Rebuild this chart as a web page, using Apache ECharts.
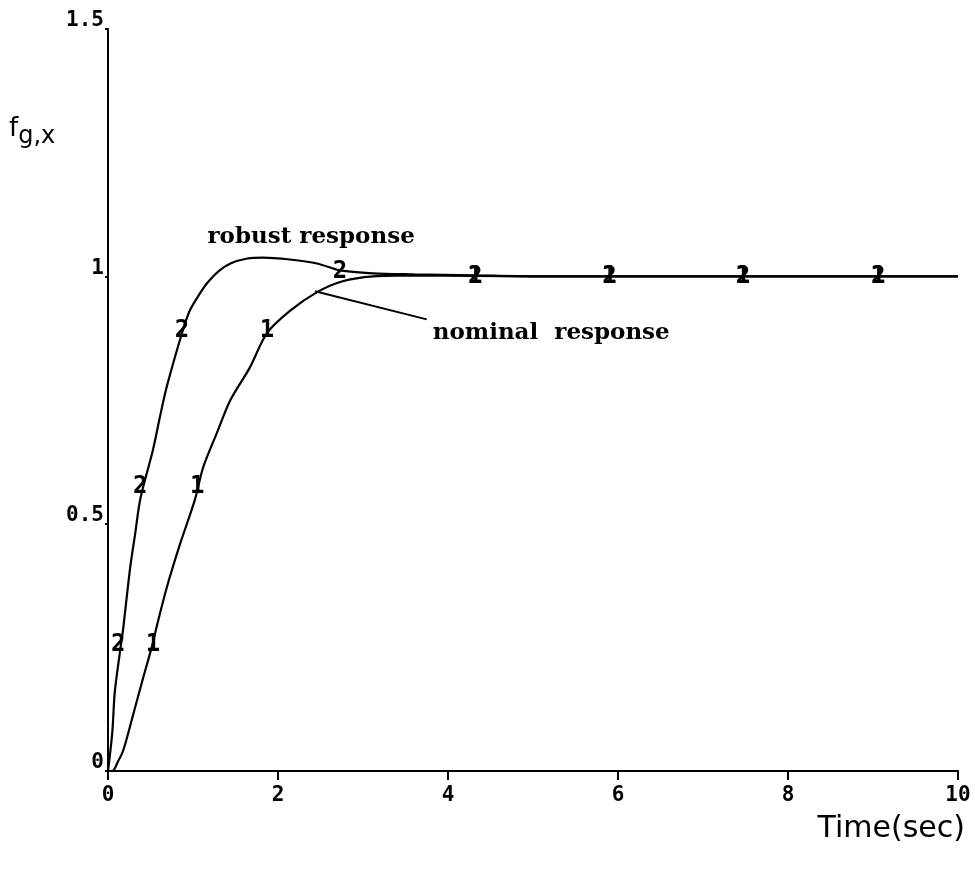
<!DOCTYPE html>
<html>
<head>
<meta charset="utf-8">
<script src="https://cdn.jsdelivr.net/npm/echarts@6/dist/echarts.min.js"></script>
<style>html,body{margin:0;padding:0;background:#fff}#c{width:975px;height:877px}</style>
</head>
<body>
<div id="c"></div>
<script>
// Robust response (curve "2")
const robustT = [0, 0.05, 0.08, 0.14, 0.18, 0.26, 0.32, 0.38, 0.53, 0.61, 0.69, 0.87, 0.96, 1.08, 1.16, 1.3, 1.44, 1.64, 1.82, 2.14, 2.46, 2.73, 3.12, 3.6, 4.3, 5, 6, 8, 10];
const robustV = [0, 0.077, 0.16, 0.24, 0.29, 0.41, 0.48, 0.55, 0.65, 0.715, 0.776, 0.885, 0.93, 0.965, 0.985, 1.01, 1.026, 1.036, 1.038, 1.034, 1.026, 1.012, 1.006, 1.004, 1.002, 1.0, 1.0, 1.0, 1.0];
// Nominal response (curve "1")
const nominalT = [0, 0.05, 0.12, 0.18, 0.29, 0.4, 0.53, 0.57, 0.69, 0.85, 1.02, 1.12, 1.28, 1.44, 1.67, 1.87, 2.14, 2.46, 2.76, 3.12, 3.6, 4.3, 5, 6, 8, 10];
const nominalV = [0, 0.0, 0.02, 0.042, 0.11, 0.18, 0.26, 0.29, 0.37, 0.46, 0.547, 0.614, 0.683, 0.75, 0.816, 0.885, 0.93, 0.968, 0.99, 1.0, 1.002, 1.001, 1.0, 1.0, 1.0, 1.0];
// Curve identification marks
const robustMarkT = [0.12, 0.38, 0.87, 2.73, 4.32, 5.9, 7.47, 9.06];
const robustMarkV = [0.255, 0.574, 0.89, 1.01, 1.0, 1.0, 1.0, 1.0];
const nominalMarkT = [0.53, 1.05, 1.87, 4.32, 5.9, 7.47, 9.06];
const nominalMarkV = [0.255, 0.574, 0.89, 1.0, 1.0, 1.0, 1.0];
// Pointer line for "nominal response"
const pointerT = [2.435, 3.75];
const pointerV = [0.970, 0.913];
// Axis tick labels
const xTicks = [0, 2, 4, 6, 8, 10];
const yTicks = [0, 0.5, 1, 1.5];
const annotations = [
  { text: 'robust response', t: 1.17, v: 1.08 },
  { text: 'nominal  response', t: 3.82, v: 0.885 }
];

const zip = (a, b) => a.map((x, i) => [x, b[i]]);
const tickFont = { fontFamily: 'DejaVu Sans Mono', fontWeight: 'bold', fontSize: 21, color: '#000' };
const markLabel = (txt) => ({ show: true, position: 'inside', formatter: txt, fontFamily: 'DejaVu Sans Mono', fontWeight: 'bold', fontSize: 24, color: '#000', opacity: 1 });

const chart = echarts.init(document.getElementById('c'), null, { renderer: 'canvas' });
const option = {
  backgroundColor: '#fff',
  animation: false,
  grid: { left: 108, right: 17, top: 29, bottom: 106 },
  xAxis: {
    type: 'value', min: 0, max: 10, interval: 2,
    axisLine: { lineStyle: { color: '#000', width: 2 } },
    axisTick: { show: true, inside: false, length: 9, lineStyle: { color: '#000', width: 2 } },
    splitLine: { show: false },
    axisLabel: Object.assign({ margin: 14, formatter: v => xTicks.includes(v) ? String(v) : '' }, tickFont)
  },
  yAxis: {
    type: 'value', min: 0, max: 1.5, interval: 0.5,
    axisLine: { lineStyle: { color: '#000', width: 2 } },
    axisTick: { show: true, length: 3, lineStyle: { color: '#000', width: 2 } },
    splitLine: { show: false },
    axisLabel: Object.assign({ margin: 4, verticalAlign: 'bottom', lineHeight: 16, formatter: v => yTicks.includes(v) ? String(v) : '' }, tickFont)
  },
  series: [
    { type: 'line', data: zip(robustT, robustV), smooth: 0.3, symbol: 'none', lineStyle: { color: '#000', width: 2.2 }, z: 2 },
    { type: 'line', data: zip(nominalT, nominalV), smooth: 0.3, symbol: 'none', lineStyle: { color: '#000', width: 2.2 }, z: 2 },
    { type: 'line', data: zip(pointerT, pointerV), symbol: 'none', lineStyle: { color: '#000', width: 2 }, z: 2 },
    { type: 'scatter', data: zip(robustMarkT, robustMarkV), symbolSize: 0.1, itemStyle: { color: '#000', opacity: 1 }, z: 5, label: markLabel('2') },
    { type: 'scatter', data: zip(nominalMarkT, nominalMarkV), symbolSize: 0.1, itemStyle: { color: '#000', opacity: 1 }, z: 5, label: markLabel('1') },
    { type: 'scatter', data: annotations.map(a => ({ value: [a.t, a.v], name: a.text })), symbolSize: 0.1, itemStyle: { color: '#fff', opacity: 1 }, z: 6,
      label: { show: true, position: 'right', distance: 0, formatter: p => p.name, fontFamily: 'DejaVu Serif', fontWeight: 'bold', fontSize: 23, color: '#000', opacity: 1 } }
  ],
  graphic: [
    { type: 'text', left: 9, top: 116, style: { rich: { f: { fontFamily: 'DejaVu Sans', fontSize: 26, fill: '#000' }, s: { fontFamily: 'DejaVu Sans', fontSize: 24, fill: '#000', padding: [16, 0, 0, 0] } }, text: '{f|f}{s|g,x}' } },
    { type: 'text', right: 10, top: 814, style: { text: 'Time(sec)', fontFamily: 'DejaVu Sans', fontSize: 30, fill: '#000' } }
  ]
};
chart.setOption(option);
</script>
</body>
</html>
